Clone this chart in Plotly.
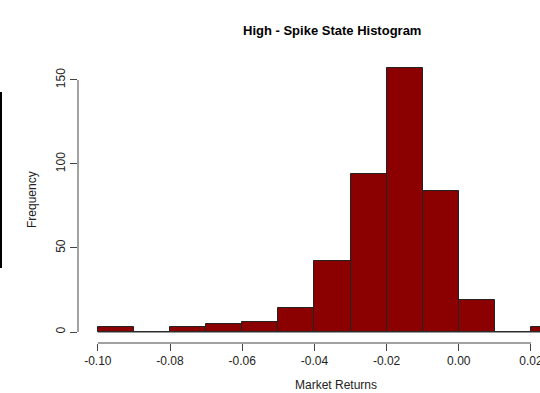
import plotly.graph_objects as go

bin_edges = [-0.10, -0.09, -0.08, -0.07, -0.06, -0.05, -0.04, -0.03, -0.02, -0.01, 0.00, 0.01, 0.02, 0.03]
counts = [3, 0, 3, 5, 6, 14, 42, 94, 157, 84, 19, 0, 3]
x_ticks = [-0.10, -0.08, -0.06, -0.04, -0.02, 0.00, 0.02]
x_labels = ["-0.10", "-0.08", "-0.06", "-0.04", "-0.02", "0.00", "0.02"]
y_ticks = [0, 50, 100, 150]
y_labels = ["0", "50", "100", "150"]

mids = [(bin_edges[i] + bin_edges[i + 1]) / 2 for i in range(len(counts))]
W, H = 540, 393
L, R, T, B = 78, 0, 60, 50
pw = W - L - R
ph = H - T - B

fig = go.Figure()
# baseline for empty bins (R draws zero-height bars as a line)
fig.add_trace(go.Scatter(x=[bin_edges[0], bin_edges[-1]], y=[0, 0], mode="lines",
                         line=dict(color="#333333", width=1), hoverinfo="skip", showlegend=False))
fig.add_trace(go.Bar(x=mids, y=counts, width=0.01,
                     marker=dict(color="#8B0000", line=dict(color="#222222", width=1)),
                     showlegend=False))

font = dict(family="Liberation Sans, Arial, sans-serif", size=12, color="#222222")
fig.update_layout(
    width=W, height=H, margin=dict(l=L, r=R, t=T, b=B, autoexpand=False),
    paper_bgcolor="white", plot_bgcolor="white", font=font, bargap=0,
    xaxis=dict(range=[-0.1055, 0.0225], tickvals=x_ticks, ticktext=x_labels,
               showgrid=False, zeroline=False, showline=False, ticks="outside",
               ticklen=7, tickcolor="#444444", tickfont=font, ticklabeloverflow="allow",
               automargin=False),
    yaxis=dict(range=[-6.55, 161.9], tickvals=y_ticks, ticktext=y_labels,
               showgrid=False, zeroline=False, showline=False, ticks="outside",
               ticklen=7, tickcolor="#444444", tickangle=-90, tickfont=font,
               automargin=False),
    shapes=[
        dict(type="line", xref="x", yref="paper", x0=x_ticks[0], x1=x_ticks[-1], y0=0, y1=0,
             line=dict(color="#444444", width=1)),
        dict(type="line", xref="paper", yref="y", x0=0, x1=0, y0=y_ticks[0], y1=y_ticks[-1],
             line=dict(color="#444444", width=1)),
        dict(type="line", xref="paper", yref="paper", x0=-(L - 1) / pw, x1=-(L - 1) / pw,
             y0=(H - B - 268) / ph, y1=(H - B - 92) / ph,
             line=dict(color="black", width=2)),
    ],
    annotations=[
        dict(text="<b>High - Spike State Histogram</b>", xref="paper", yref="paper",
             x=(332 - L) / pw, y=(H - B - 31) / ph, showarrow=False,
             font=dict(family="Liberation Sans, Arial, sans-serif", size=13, color="black"),
             xanchor="center", yanchor="middle"),
        dict(text="Frequency", xref="paper", yref="paper",
             x=-(L - 32) / pw, y=(H - B - 200) / ph, showarrow=False, textangle=-90,
             font=font, xanchor="center", yanchor="middle"),
        dict(text="Market Returns", xref="paper", yref="paper",
             x=(336 - L) / pw, y=-(385 - (H - B)) / ph, showarrow=False,
             font=font, xanchor="center", yanchor="middle"),
    ],
)
fig.write_html("out.html", config={"displayModeBar": False},
               post_script="document.body.style.margin='0px';")
